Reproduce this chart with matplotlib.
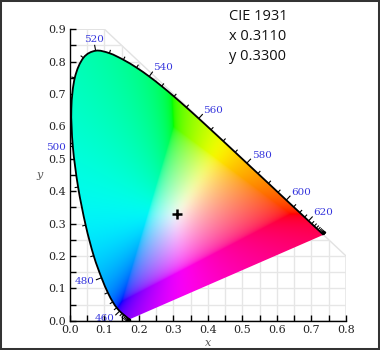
import numpy as np
import matplotlib
matplotlib.use("Agg")
import matplotlib.pyplot as plt
from matplotlib.path import Path
from matplotlib.patches import Polygon, PathPatch, Rectangle
from matplotlib.collections import LineCollection

# CIE 1931 2-degree spectral locus, 5 nm steps
wavelengths = np.arange(380, 705, 5)
locus_x = [0.1741, 0.1740, 0.1738, 0.1736, 0.1733, 0.1730, 0.1726, 0.1721,
           0.1714, 0.1703, 0.1689, 0.1669, 0.1644, 0.1611, 0.1566, 0.1510,
           0.1440, 0.1355, 0.1241, 0.1096, 0.0913, 0.0687, 0.0454, 0.0235,
           0.0082, 0.0039, 0.0139, 0.0389, 0.0743, 0.1142, 0.1547, 0.1929,
           0.2296, 0.2658, 0.3016, 0.3373, 0.3731, 0.4087, 0.4441, 0.4788,
           0.5125, 0.5448, 0.5752, 0.6029, 0.6270, 0.6482, 0.6658, 0.6801,
           0.6915, 0.7006, 0.7079, 0.7140, 0.7190, 0.7230, 0.7260, 0.7283,
           0.7300, 0.7311, 0.7320, 0.7327, 0.7334, 0.7340, 0.7344, 0.7346,
           0.7347]
locus_y = [0.0050, 0.0050, 0.0049, 0.0049, 0.0048, 0.0048, 0.0048, 0.0048,
           0.0051, 0.0058, 0.0069, 0.0086, 0.0109, 0.0138, 0.0177, 0.0227,
           0.0297, 0.0399, 0.0578, 0.0868, 0.1327, 0.2007, 0.2950, 0.4127,
           0.5384, 0.6548, 0.7502, 0.8120, 0.8338, 0.8262, 0.8059, 0.7816,
           0.7543, 0.7243, 0.6923, 0.6589, 0.6245, 0.5896, 0.5547, 0.5202,
           0.4866, 0.4544, 0.4242, 0.3965, 0.3725, 0.3514, 0.3340, 0.3197,
           0.3083, 0.2993, 0.2920, 0.2859, 0.2809, 0.2770, 0.2740, 0.2717,
           0.2700, 0.2689, 0.2680, 0.2673, 0.2666, 0.2660, 0.2656, 0.2654,
           0.2653]
labeled_wavelengths = [460, 480, 500, 520, 540, 560, 580, 600, 620]
white_x, white_y = 0.3110, 0.3300
diagram_name = "CIE 1931"
x_ticks = [0.0, 0.1, 0.2, 0.3, 0.4, 0.5, 0.6, 0.7, 0.8]
y_ticks = [0.0, 0.1, 0.2, 0.3, 0.4, 0.5, 0.6, 0.7, 0.8, 0.9]

lx = np.asarray(locus_x)
ly = np.asarray(locus_y)
pts = np.column_stack([lx, ly])


def smooth_path(p, close=False):
    """Catmull-Rom style cubic Bezier path through the given points."""
    verts = [p[0]]
    codes = [Path.MOVETO]
    m = len(p)
    for i in range(m - 1):
        p_prev = p[max(i - 1, 0)]
        p_next2 = p[min(i + 2, m - 1)]
        c1 = p[i] + (p[i + 1] - p_prev) / 6.0
        c2 = p[i + 1] - (p_next2 - p[i]) / 6.0
        verts += [c1, c2, p[i + 1]]
        codes += [Path.CURVE4] * 3
    if close:
        verts.append(p[0])
        codes.append(Path.CLOSEPOLY)
    return Path(np.array(verts), codes)


DPI = 100
fig = plt.figure(figsize=(3.8, 3.5), dpi=DPI)
ax = fig.add_axes([0.1842, 0.0837, 0.7263, 0.8326])
ax.set_xlim(0, 0.8)
ax.set_ylim(0, 0.9)

# light grid limited to the region x + y <= 1
grid_region = Polygon([(0, 0), (0.8, 0), (0.8, 0.2), (0.1, 0.9), (0, 0.9)],
                      closed=True, facecolor="none", edgecolor="#e2e2e2",
                      lw=1.0, zorder=1)
ax.add_patch(grid_region)
steps_x = np.arange(0.05, 0.8, 0.05)
steps_y = np.arange(0.05, 0.9, 0.05)
vl = ax.vlines(steps_x, 0, 0.9, colors="#e6e6e6", lw=1.0, zorder=1)
hl = ax.hlines(steps_y, 0, 0.8, colors="#e6e6e6", lw=1.0, zorder=1)
vl.set_clip_path(grid_region)
hl.set_clip_path(grid_region)

# chromaticity colours: xyY -> linear sRGB, desaturated toward white when
# out of gamut, brightness normalised with a soft maximum
gx = np.linspace(0, 0.8, 700)
gy = np.linspace(0, 0.9, 780)
GX, GY = np.meshgrid(gx, gy)
GYs = np.maximum(GY, 1e-4)
XYZ = np.stack([GX / GYs, np.ones_like(GX), (1 - GX - GY) / GYs], axis=-1)
M = np.array([[3.2406, -1.5372, -0.4986],
              [-0.9689, 1.8758, 0.0415],
              [0.0557, -0.2040, 1.0570]])
rgb = XYZ @ M.T
rgb = rgb - np.minimum(rgb.min(axis=-1, keepdims=True), 0)
p_norm = 8.0
rgb = rgb / np.power(np.sum(rgb ** p_norm, axis=-1, keepdims=True), 1 / p_norm)
rgb = np.clip(rgb, 0, 1)
rgb = np.where(rgb <= 0.0031308, 12.92 * rgb,
               1.055 * np.power(rgb, 1 / 2.4) - 0.055)
rgb = np.clip(rgb, 0, 1)

horseshoe = PathPatch(smooth_path(pts, close=True), facecolor="none",
                      edgecolor="none")
ax.add_patch(horseshoe)
im = ax.imshow(rgb, extent=(0, 0.8, 0, 0.9), origin="lower", aspect="auto",
               interpolation="bilinear", zorder=2)
im.set_clip_path(horseshoe)

# spectral locus outline
ax.add_patch(PathPatch(smooth_path(pts), facecolor="none", edgecolor="black",
                       lw=1.3, zorder=4, joinstyle="round"))

# wavelength ticks and labels, perpendicular to the locus
fig.canvas.draw()
disp = ax.transData.transform(pts)
n = len(lx)
segs = []
inv = ax.transData.inverted()
for i, wl in enumerate(wavelengths):
    a = disp[max(i - 1, 0)]
    b = disp[min(i + 1, n - 1)]
    t = b - a
    norm = np.hypot(*t)
    if norm < 1e-9:
        continue
    t = t / norm
    nrm = np.array([-t[1], t[0]])
    length = 6.0 if wl in labeled_wavelengths else 3.5
    p0 = disp[i]
    p1 = p0 + nrm * length
    segs.append(inv.transform(np.vstack([p0, p1])))
    if wl in labeled_wavelengths:
        if nrm[0] > 0.25:
            ha = "left"
        elif nrm[0] < -0.25:
            ha = "right"
        else:
            ha = "center"
        ox = nrm[0] * 7.0
        oy = nrm[1] * 11.0
        ax.annotate(str(wl), xy=(lx[i], ly[i]), xytext=(ox * 72 / DPI, oy * 72 / DPI),
                    textcoords="offset points", ha=ha, va="center",
                    fontsize=7.5, family="DejaVu Serif", color="#3535dd",
                    zorder=5, annotation_clip=False)
ax.add_collection(LineCollection(segs, colors="black", lw=0.8, zorder=4))

# white point
ax.plot([white_x], [white_y], marker="+", color="black", ms=6.5, mew=1.8, zorder=6)

# axes styling
for side in ("top", "right"):
    ax.spines[side].set_visible(False)
for side in ("left", "bottom"):
    ax.spines[side].set_linewidth(1.0)
    ax.spines[side].set_zorder(5)
ax.set_xticks(x_ticks)
ax.set_yticks(y_ticks)
ax.set_xticklabels([f"{v:.1f}" for v in x_ticks])
ax.set_yticklabels([f"{v:.1f}" for v in y_ticks])
ax.set_xticks(np.arange(0.05, 0.8, 0.1), minor=True)
ax.set_yticks(np.arange(0.05, 0.9, 0.1), minor=True)
ax.tick_params(which="both", direction="in", length=4, width=1, color="black")
ax.tick_params(which="major", labelsize=8, pad=3, labelcolor="#222222")
for lab in ax.get_xticklabels() + ax.get_yticklabels():
    lab.set_family("DejaVu Serif")
ax.set_facecolor("white")

ax.text(0.5, -0.077, "x", transform=ax.transAxes, ha="center", va="center",
        fontsize=8, family="DejaVu Serif", style="italic", color="#555555")
ax.text(-0.109, 0.5, "y", transform=ax.transAxes, ha="center", va="center",
        fontsize=8, family="DejaVu Serif", style="italic", color="#555555")

# info block
info_lines = [diagram_name, f"x {white_x:.4f}", f"y {white_y:.4f}"]
baselines = [0.943, 0.886, 0.830]
for line, yb in zip(info_lines, baselines):
    fig.text(0.603, yb, line, ha="left", va="baseline", fontsize=10.5,
             family="Open Sans", color="#111111")

# frame around the figure
fig.patches.append(Rectangle((0, 0), 1, 1, transform=fig.transFigure,
                             fill=False, edgecolor="#333333", lw=2.9,
                             zorder=10))

fig.savefig("out.png", dpi=DPI, facecolor="white")
